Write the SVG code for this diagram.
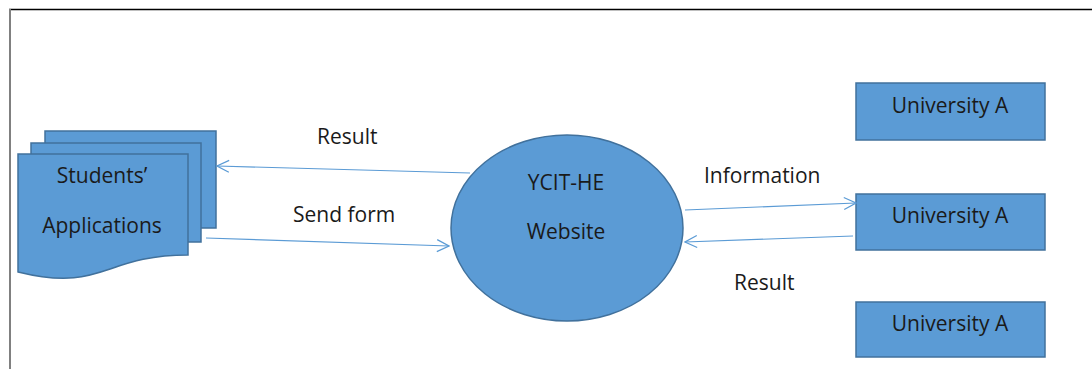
<svg xmlns="http://www.w3.org/2000/svg" width="1092" height="369" viewBox="0 0 1092 369">
  <style>
    .shape { fill: #5b9bd5; stroke: #41719c; stroke-width: 1.5; }
    .label { font-family: "Open Sans", "Liberation Sans", sans-serif; font-size: 21px; fill: #1a1a1a; }
    .node-text { text-anchor: middle; }
    .flow { fill: none; stroke: #5b9bd5; stroke-width: 1.2; }
  </style>
  <defs>
    <marker id="open-arrow" viewBox="0 0 14 14" refX="13" refY="7" markerWidth="14" markerHeight="14" markerUnits="userSpaceOnUse" orient="auto">
      <path d="M1,1 L13,7 L1,13" fill="none" stroke="#5b9bd5" stroke-width="1.2"/>
    </marker>
  </defs>

  <rect width="1092" height="369" fill="#ffffff"/>

  <!-- frame -->
  <line x1="9" y1="9.5" x2="1092" y2="9.5" stroke="#000000" stroke-width="1.5"/>
  <line x1="10" y1="9" x2="10" y2="369" stroke="#808080" stroke-width="2"/>

  <!-- stacked documents -->
  <g id="students-applications">
    <rect class="shape" x="45" y="131" width="171" height="97"/>
    <rect class="shape" x="31" y="143" width="170" height="99"/>
    <path class="shape" d="M18,154 H188 V255 C103,255 103,293 18,272 Z"/>
    <text class="label node-text" x="102" y="183">Students’</text>
    <text class="label node-text" x="102" y="233">Applications</text>
  </g>

  <!-- central process -->
  <g id="ycit-he-website">
    <ellipse class="shape" cx="567" cy="228" rx="116" ry="93"/>
    <text class="label node-text" x="566" y="190">YCIT-HE</text>
    <text class="label node-text" x="566" y="239">Website</text>
  </g>

  <!-- universities -->
  <g id="university-1">
    <rect class="shape" x="856" y="83" width="189" height="57"/>
    <text class="label node-text" x="950" y="113">University A</text>
  </g>
  <g id="university-2">
    <rect class="shape" x="856" y="194" width="189" height="56"/>
    <text class="label node-text" x="950" y="223">University A</text>
  </g>
  <g id="university-3">
    <rect class="shape" x="856" y="302" width="189" height="55"/>
    <text class="label node-text" x="950" y="331">University A</text>
  </g>

  <!-- data flows -->
  <g id="connectors">
    <line class="flow" x1="470" y1="173" x2="217" y2="166" marker-end="url(#open-arrow)"/>
    <line class="flow" x1="206" y1="238" x2="449" y2="246" marker-end="url(#open-arrow)"/>
    <line class="flow" x1="685" y1="210" x2="856" y2="203" marker-end="url(#open-arrow)"/>
    <line class="flow" x1="853" y1="236" x2="685" y2="242" marker-end="url(#open-arrow)"/>
    <text class="label" x="317" y="144">Result</text>
    <text class="label" x="293" y="222">Send form</text>
    <text class="label" x="704" y="183">Information</text>
    <text class="label" x="734" y="290">Result</text>
  </g>
</svg>
